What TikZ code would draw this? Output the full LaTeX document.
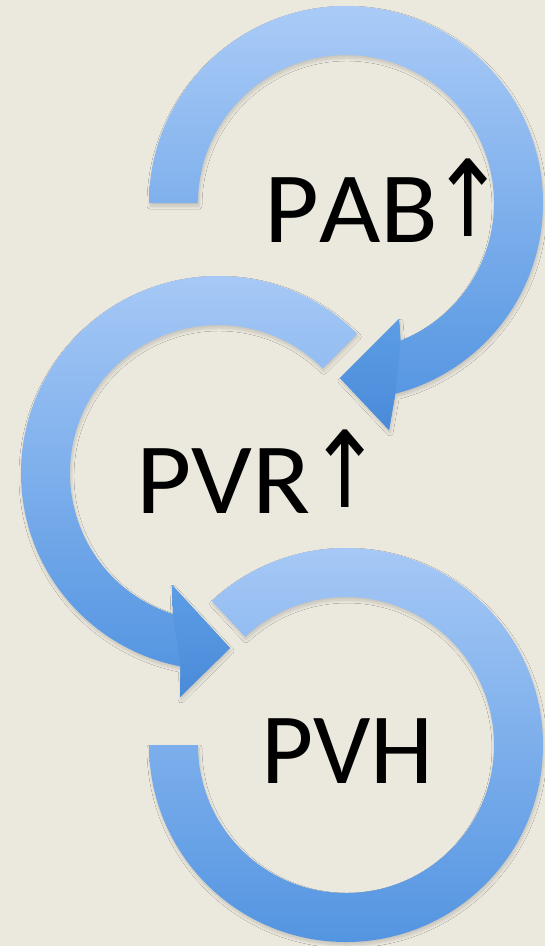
\documentclass[tikz,border=0pt]{standalone}
\usepackage{fontspec}
\setmainfont{Carlito}[Kerning=Off]
\newfontfamily\arrowfont{DejaVu Sans}
\usetikzlibrary{calc,shadows.blur}
\definecolor{bg}{HTML}{EBE8DE}
\definecolor{ringtop}{HTML}{AACBF7}
\definecolor{ringbot}{HTML}{4F92E0}
\definecolor{headtop}{HTML}{5C9DE6}
\definecolor{headbot}{HTML}{4A8AD8}
\tikzset{
  ring/.style={top color=ringtop, bottom color=ringbot, draw=none,
    blur shadow={shadow xshift=1pt, shadow yshift=-3pt, shadow blur steps=8, shadow opacity=16, shadow blur radius=3pt}},
  head/.style={top color=headtop, bottom color=headbot, draw=none},
  lbl/.style={inner sep=0pt, anchor=base west, font=\fontsize{101}{101}\selectfont, text=black}
}
\newcommand{\uparr}{\raisebox{6pt}{\scalebox{0.85}[1]{\arrowfont\fontsize{106}{106}\selectfont ↑}}}
\begin{document}
\begin{tikzpicture}[x=1pt,y=-1pt]
\fill[bg] (0,0) rectangle (545,946);
\useasboundingbox (0,0) rectangle (545,946);
% top ring (PAB)
\coordinate (c1) at (346,203);
\path[ring] ($(c1)+(180:197)$) arc[start angle=180, end angle=435.5, radius=197]
  -- (389,430) -- (340,378) -- (399,319) -- ($(c1)+(68.3:148)$)
  arc[start angle=428.3, end angle=180, radius=148] -- cycle;
\path[head] ($(c1)+(75.5:197)$) -- (389,430) -- (340,378) -- (399,319) -- ($(c1)+(68.3:148)$) -- cycle;
% middle ring (PVR)
\coordinate (c2) at (218,473);
\path[ring] ($(c2)+(-45:197)$) arc[start angle=-45, end angle=-259, radius=197]
  -- (180,697) -- (230,648) -- (172,585) -- ($(c2)+(107.7:148)$)
  arc[start angle=-252.3, end angle=-45, radius=148] -- cycle;
\path[head] ($(c2)+(101:197)$) -- (180,697) -- (230,648) -- (172,585) -- ($(c2)+(107.7:148)$) -- cycle;
% bottom ring (PVH)
\coordinate (c3) at (346,745);
\path[ring] ($(c3)+(-133:197)$) arc[start angle=-133, end angle=180, radius=197]
  -- ($(c3)+(180:148)$) arc[start angle=180, end angle=-133, radius=148] -- cycle;
% labels
\node[lbl] (pab) at (264,242) {\scalebox{1.05}[1]{PAB}\hspace{-8pt}\uparr};
\node[lbl] (pvr) at (136,513) {\scalebox{1.06}[1]{PVR}\hspace{-3pt}\uparr};
\node[lbl] (pvh) at (261,783) {PVH};
\end{tikzpicture}
\end{document}
